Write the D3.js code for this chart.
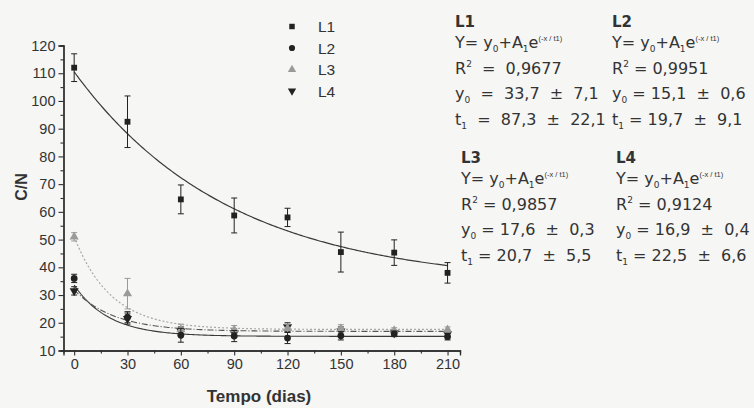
<!DOCTYPE html>
<html>
<head>
<meta charset="utf-8">
<script src="https://cdn.jsdelivr.net/npm/d3@7"></script>
<style>
  body { margin: 0; background: #f6f6f4; }
  svg { font-family: "Liberation Sans", Arial, sans-serif; }
  .fit { font-family: "DejaVu Sans", sans-serif; }
  .fit .sup { font-family: "Liberation Sans", Arial, sans-serif; }
</style>
</head>
<body>
<svg id="chart" width="754" height="408"></svg>
<script>
// days
var days = [0, 30, 60, 90, 120, 150, 180, 210];
// mean C/N per series
var l1 = [112, 92.5, 64.5, 58.7, 58, 45.5, 45.3, 38];
var l2 = [36, 22, 15.5, 15.2, 14.5, 15.3, 16, 15];
var l3 = [51, 30.5, 17.5, 17.5, 18, 17.8, 17.2, 17.5];
var l4 = [31.5, 21.5, 17, 16.2, 18.5, 17, 16.3, 16];
// error (half bar)
var l1Err = [5, 9.3, 5.2, 6.3, 3.3, 7.2, 4.6, 3.7];
var l2Err = [1.5, 2, 2.5, 2, 2, 1.5, 1, 1.2];
var l3Err = [1.5, 5.5, 2, 1.5, 1.5, 1.5, 1, 1];
var l4Err = [1.5, 2, 1.5, 1.5, 1.5, 1.5, 1, 1];
// fit parameters  y = y0 + A1*exp(-x/t1)
var fitY0 = [33.7, 15.1, 17.6, 16.9];
var fitA1 = [76.8, 18.5, 33.4, 15];
var fitT1 = [87.3, 19.7, 20.7, 22.5];

var names = ["L1", "L2", "L3", "L4"];
var r2Text = ["  =  0,9677", " = 0,9951", " = 0,9857", " = 0,9124"];
var y0Text = ["  =  33,7  \u00b1  7,1", " = 15,1  \u00b1  0,6", " = 17,6  \u00b1  0,3", " = 16,9  \u00b1  0,4"];
var t1Text = ["  =  87,3  \u00b1  22,1", " = 19,7  \u00b1  9,1", " = 20,7  \u00b1  5,5", " = 22,5  \u00b1  6,6"];

var ink = "#2e2e2e";
var svg = d3.select("#chart");

var x = d3.scaleLinear().domain([-6, 217]).range([63.5, 460]);
var y = d3.scaleLinear().domain([10, 120]).range([350.5, 45.5]);

// axes
svg.append("g")
    .attr("transform", "translate(63.5,0)")
    .call(d3.axisLeft(y).tickValues(d3.range(10, 121, 10)).tickSize(5).tickPadding(3));
svg.append("g")
    .attr("transform", "translate(63.5,0)")
    .call(d3.axisLeft(y).tickValues(d3.range(15, 120, 10)).tickSize(3).tickFormat(""));
svg.append("g")
    .attr("transform", "translate(0,350.5)")
    .call(d3.axisBottom(x).tickValues(days).tickSize(5).tickPadding(3));
svg.append("g")
    .attr("transform", "translate(0,350.5)")
    .call(d3.axisBottom(x).tickValues(d3.range(15, 211, 30)).tickSize(3).tickFormat(""));

svg.selectAll(".domain").attr("stroke", ink).attr("stroke-width", 1.3);
svg.selectAll(".tick line").attr("stroke", ink).attr("stroke-width", 1.1);
svg.selectAll(".tick text").attr("fill", "#333").style("font-size", "14.5px");

svg.append("text")
    .attr("transform", "translate(21,187) rotate(-90)")
    .attr("text-anchor", "middle")
    .attr("dy", "0.35em")
    .attr("font-weight", "bold")
    .attr("font-size", 16)
    .attr("fill", "#333")
    .text("C/N");
svg.append("text")
    .attr("x", 259).attr("y", 402)
    .attr("text-anchor", "middle")
    .attr("font-weight", "bold")
    .attr("font-size", 17)
    .attr("fill", "#333")
    .text("Tempo (dias)");

// fitted curves
var xs = d3.range(0, 210.5, 1);
var curveStyle = [
    { stroke: "#3a3a3a", dash: null, w: 1.2 },
    { stroke: "#3a3a3a", dash: null, w: 1.1 },
    { stroke: "#a8a8a8", dash: "2,2", w: 1.2 },
    { stroke: "#555", dash: "6,2,1,2", w: 1.1 }
];
var line = d3.line().x(d => x(d[0])).y(d => y(d[1]));
for (var i = 0; i < 4; i++) {
    var pts = xs.map(v => [v, fitY0[i] + fitA1[i] * Math.exp(-v / fitT1[i])]);
    svg.append("path")
        .attr("d", line(pts))
        .attr("fill", "none")
        .attr("stroke", curveStyle[i].stroke)
        .attr("stroke-width", curveStyle[i].w)
        .attr("stroke-dasharray", curveStyle[i].dash);
}

// points + error bars
var series = [l1, l2, l3, l4];
var errs = [l1Err, l2Err, l3Err, l4Err];
var symbols = [d3.symbolSquare, d3.symbolCircle, d3.symbolTriangle, d3.symbolTriangle];
var colors = ["#222", "#222", "#9a9a9a", "#222"];
var rot = [0, 0, 0, 180];

for (var s = 3; s >= 0; s--) {
    var g = svg.append("g");
    var data = days.map((d, k) => ({ x: d, v: series[s][k], e: errs[s][k] }));
    g.selectAll("line.eb")
        .data(data).enter().append("line")
        .attr("x1", d => x(d.x)).attr("x2", d => x(d.x))
        .attr("y1", d => y(d.v + d.e)).attr("y2", d => y(d.v - d.e))
        .attr("stroke", colors[s]).attr("stroke-width", 1);
    [1, -1].forEach(sg => {
        g.selectAll(null)
            .data(data).enter().append("line")
            .attr("x1", d => x(d.x) - 3).attr("x2", d => x(d.x) + 3)
            .attr("y1", d => y(d.v + sg * d.e)).attr("y2", d => y(d.v + sg * d.e))
            .attr("stroke", colors[s]).attr("stroke-width", 1);
    });
    g.selectAll("path.pt")
        .data(data).enter().append("path")
        .attr("d", d3.symbol().type(symbols[s]).size(s == 0 ? 34 : 36))
        .attr("transform", d => `translate(${x(d.x)},${y(d.v)}) rotate(${rot[s]})`)
        .attr("fill", colors[s]);
}

// legend
var legend = svg.append("g");
names.forEach((n, i) => {
    var ly = 26.5 + i * 21.5;
    legend.append("path")
        .attr("d", d3.symbol().type(symbols[i]).size(30))
        .attr("transform", `translate(292,${ly}) rotate(${rot[i]})`)
        .attr("fill", colors[i]);
    legend.append("text")
        .attr("x", 318).attr("y", ly + 5.5)
        .attr("font-size", 15.5).attr("fill", "#333")
        .text(n);
});

// fit result blocks
var blockPos = [[455, 27], [612, 27], [461, 163], [616, 163]];
var rowOff = [0, 21, 47, 72, 98];
names.forEach((n, i) => {
    var bx = blockPos[i][0], by = blockPos[i][1];
    var b = svg.append("g").attr("class", "fit")
        .attr("transform", `translate(${bx},${by})`).attr("fill", "#333");
    b.append("text").attr("y", rowOff[0]).attr("font-weight", "bold").attr("font-size", 15).text(n);

    var eq = b.append("text").attr("y", rowOff[1]).attr("font-size", 16);
    eq.append("tspan").text("Y= y");
    eq.append("tspan").attr("font-size", 9).attr("dy", 4).text("0");
    eq.append("tspan").attr("dy", -4).text("+A");
    eq.append("tspan").attr("font-size", 9).attr("dy", 4).text("1");
    eq.append("tspan").attr("dy", -4).text("e");
    eq.append("tspan").attr("class", "sup").attr("font-size", 7.5).attr("dy", -7).text("(-x / t1)");

    var r2 = b.append("text").attr("y", rowOff[2]).attr("font-size", 16).attr("xml:space", "preserve");
    r2.append("tspan").text("R");
    r2.append("tspan").attr("font-size", 9).attr("dy", -7).text("2");
    r2.append("tspan").attr("dy", 7).text(r2Text[i]);

    var yy = b.append("text").attr("y", rowOff[3]).attr("font-size", 16).attr("xml:space", "preserve");
    yy.append("tspan").text("y");
    yy.append("tspan").attr("font-size", 9).attr("dy", 4).text("0");
    yy.append("tspan").attr("dy", -4).text(y0Text[i]);

    var tt = b.append("text").attr("y", rowOff[4]).attr("font-size", 16).attr("xml:space", "preserve");
    tt.append("tspan").text("t");
    tt.append("tspan").attr("font-size", 9).attr("dy", 4).text("1");
    tt.append("tspan").attr("dy", -4).text(t1Text[i]);
});
</script>
</body>
</html>
